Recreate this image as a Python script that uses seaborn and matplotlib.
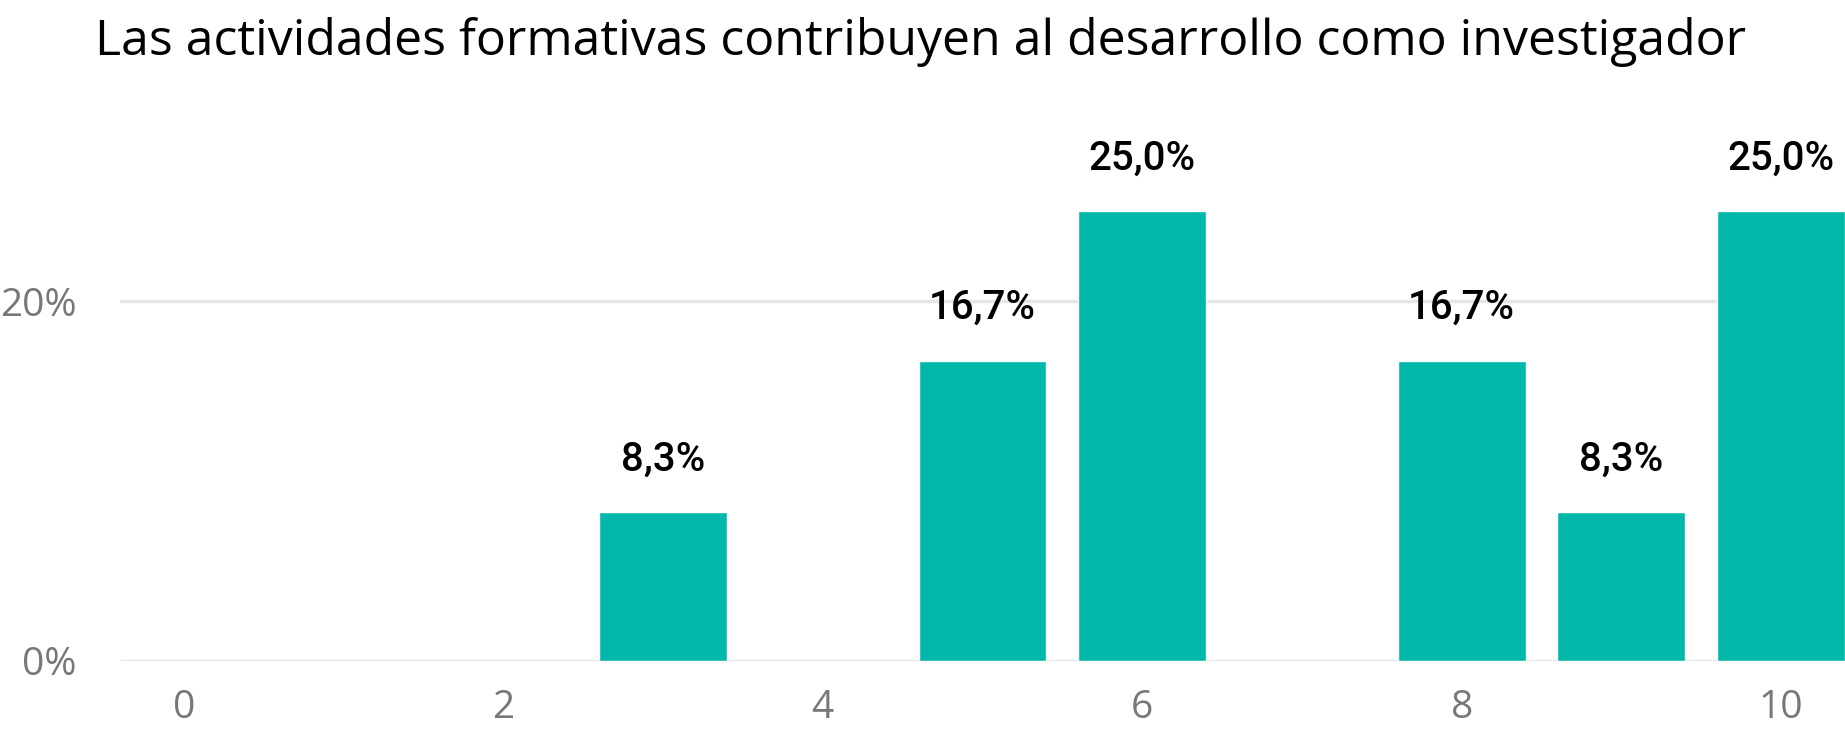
import matplotlib
matplotlib.use("Agg")
import matplotlib.pyplot as plt
import seaborn as sns
from matplotlib.ticker import FuncFormatter

title = "Las actividades formativas contribuyen al desarrollo como investigador"
scores = [3, 5, 6, 8, 9, 10]
shares = [0.083, 0.167, 0.250, 0.167, 0.083, 0.250]
x_ticks = [0, 2, 4, 6, 8, 10]
y_ticks = [0.0, 0.2]

teal = "#02B8AA"


def pct_label(v):
    return f"{v * 100:.1f}%".replace(".", ",")


def main():
    sns.set_theme(style="white")
    plt.rcParams["font.family"] = ["Open Sans", "DejaVu Sans"]

    fig = plt.figure(figsize=(18.45, 7.31), dpi=100)
    ax = fig.add_axes([0.065, 0.0958, 0.935, 0.689])

    sns.barplot(x=scores, y=shares, native_scale=True, width=0.8,
                color=teal, saturation=1, ax=ax)

    for c in ax.containers:
        ax.bar_label(c, labels=[pct_label(v) for v in c.datavalues],
                     padding=24, fontsize=29, fontweight="medium",
                     family=["Roboto", "DejaVu Sans"], color="black")

    ax.set_xlim(-0.4, 10.4)
    ax.set_ylim(0, 0.28)
    ax.set_xticks(x_ticks)
    ax.set_yticks(y_ticks)
    ax.yaxis.set_major_formatter(FuncFormatter(lambda v, p: f"{v * 100:.0f}%"))
    ax.tick_params(axis="both", labelsize=28, labelcolor="#777777",
                   length=0)
    ax.tick_params(axis="y", pad=31)
    ax.tick_params(axis="x", pad=20)
    ax.set_xlabel("")
    ax.set_ylabel("")

    ax.grid(axis="y", color="#E6E6E6", linewidth=2.5)
    ax.set_axisbelow(True)
    sns.despine(ax=ax, left=True, bottom=True)

    fig.text(0.499, 0.942, title, ha="center", va="center", fontsize=36,
             color="black")

    fig.savefig("out.png", dpi=100)


if __name__ == "__main__":
    main()
